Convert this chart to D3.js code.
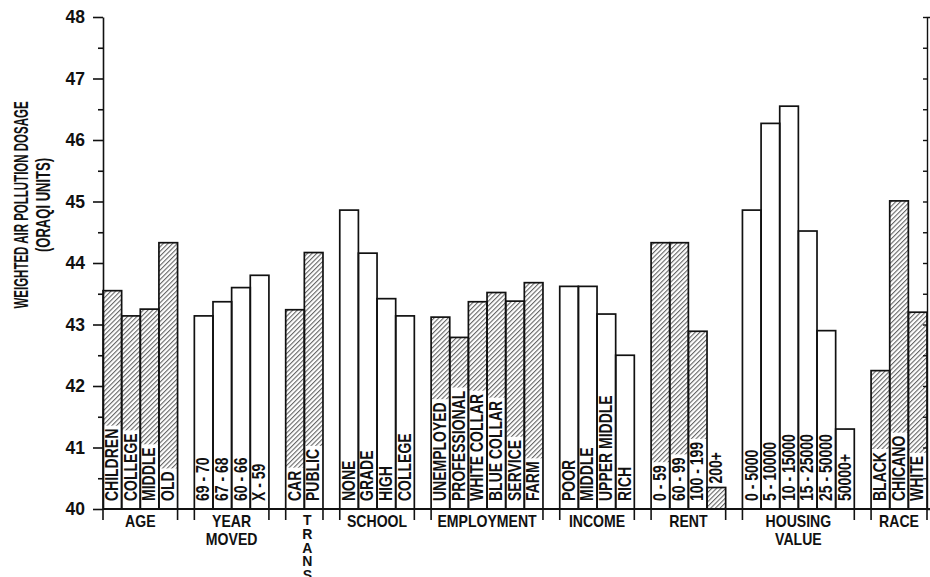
<!DOCTYPE html>
<html>
<head>
<meta charset="utf-8">
<script src="https://cdn.jsdelivr.net/npm/d3@7"></script>
<style>
  html, body { margin: 0; padding: 0; background: #fff; }
  svg { display: block; }
  text { font-family: "Liberation Sans", Arial, sans-serif; font-weight: bold; fill: #111; }
  text.stacked { writing-mode: vertical-rl; text-orientation: upright; }
</style>
</head>
<body>
<svg id="chart" width="930" height="577"></svg>
<script>
// Weighted air pollution dosage (ORAQI units) by population subgroup

const groupTitles = [["AGE"], ["YEAR", "MOVED"], ["TRANS"], ["SCHOOL"], ["EMPLOYMENT"],
                     ["INCOME"], ["RENT"], ["HOUSING", "VALUE"], ["RACE"]];

const ageCats = ["CHILDREN", "COLLEGE", "MIDDLE", "OLD"];
const ageVals = [43.55, 43.14, 43.25, 44.33];

const movedCats = ["69 - 70", "67 - 68", "60 - 66", "X - 59"];
const movedVals = [43.14, 43.37, 43.60, 43.80];

const transCats = ["CAR", "PUBLIC"];
const transVals = [43.24, 44.17];

const schoolCats = ["NONE", "GRADE", "HIGH", "COLLEGE"];
const schoolVals = [44.86, 44.16, 43.42, 43.14];

const employCats = ["UNEMPLOYED", "PROFESSIONAL", "WHITE COLLAR", "BLUE COLLAR", "SERVICE", "FARM"];
const employVals = [43.12, 42.79, 43.37, 43.52, 43.38, 43.68];

const incomeCats = ["POOR", "MIDDLE", "UPPER MIDDLE", "RICH"];
const incomeVals = [43.62, 43.62, 43.17, 42.50];

const rentCats = ["0 - 59", "60 - 99", "100 - 199", "200+"];
const rentVals = [44.33, 44.33, 42.89, 40.35];

const housingCats = ["0 - 5000", "5 - 10000", "10 - 15000", "15 - 25000", "25 - 50000", "50000+"];
const housingVals = [44.86, 46.27, 46.55, 44.52, 42.90, 41.30];

const raceCats = ["BLACK", "CHICANO", "WHITE"];
const raceVals = [42.25, 45.01, 43.20];

const yTicks = [40, 41, 42, 43, 44, 45, 46, 47, 48];
const axisTitle = ["WEIGHTED AIR POLLUTION DOSAGE", "(ORAQI UNITS)"];

// ---------------------------------------------------------------------------

const groups = [
  [ageCats, ageVals], [movedCats, movedVals], [transCats, transVals],
  [schoolCats, schoolVals], [employCats, employVals], [incomeCats, incomeVals],
  [rentCats, rentVals], [housingCats, housingVals], [raceCats, raceVals]
].map(([cats, vals], i) => ({ title: groupTitles[i], cats, vals }));

const plot = { left: 103, right: 927, top: 17, bottom: 509 };
const gapUnits = 0.9;          // space between groups, in bar widths

const bars = [];
let slot = 0;
groups.forEach((g, gi) => {
  g.start = slot;
  g.cats.forEach((c, i) => {
    bars.push({ cat: c, value: g.vals[i], group: gi, hatched: gi % 2 === 0, pos: slot });
    slot += 1;
  });
  g.end = slot;
  slot += gapUnits;
});
const totalUnits = slot - gapUnits;

const x = d3.scaleLinear().domain([0, totalUnits]).range([plot.left, plot.right]);
const y = d3.scaleLinear().domain([40, 48]).range([plot.bottom, plot.top]);

const svg = d3.select("#chart");

// diagonal hatch fill
const defs = svg.append("defs");
const pat = defs.append("pattern")
  .attr("id", "hatch")
  .attr("patternUnits", "userSpaceOnUse")
  .attr("width", 3.3).attr("height", 3.3)
  .attr("patternTransform", "rotate(45)");
pat.append("rect").attr("width", 3.3).attr("height", 3.3).attr("fill", "#fff");
pat.append("line")
  .attr("x1", 0.6).attr("y1", 0).attr("x2", 0.6).attr("y2", 3.3)
  .attr("stroke", "#444").attr("stroke-width", 0.9);

const fillG = svg.append("g");
const boxG = svg.append("g");
const outlineG = svg.append("g");
const labelG = svg.append("g");

fillG.selectAll("rect").data(bars).join("rect")
  .attr("x", d => x(d.pos))
  .attr("y", d => y(d.value))
  .attr("width", d => x(d.pos + 1) - x(d.pos))
  .attr("height", d => y(40) - y(d.value))
  .attr("fill", d => d.hatched ? "url(#hatch)" : "#fff");

// bar category labels, rotated, reading upward from near the baseline;
// a label longer than its bar sits just above the bar instead
const labelSize = 17.5, labelSquash = 0.8;
const cap = labelSize * 0.716;
const labelBottom = plot.bottom - 8;

labelG.selectAll("text").data(bars).join("text")
  .attr("font-size", labelSize)
  .attr("text-anchor", "start")
  .text(d => d.cat)
  .each(function (d) {
    d.labelLen = this.getComputedTextLength() * labelSquash;
    const top = y(d.value);
    d.inside = (labelBottom - top) >= d.labelLen + 4;
    d.start = d.inside ? labelBottom : top - 4;
    const cx = (x(d.pos) + x(d.pos + 1)) / 2;
    d3.select(this).attr("transform",
      `translate(${cx + cap / 2 - 0.5},${d.start}) rotate(-90) scale(${labelSquash},1)`);
  });

// clear band behind each label inside its bar
const boxTop = d => Math.max(d.start - d.labelLen - 3, y(d.value));
boxG.selectAll("rect").data(bars.filter(d => d.inside)).join("rect")
  .attr("x", d => x(d.pos))
  .attr("width", d => x(d.pos + 1) - x(d.pos))
  .attr("y", boxTop)
  .attr("height", d => plot.bottom - boxTop(d))
  .attr("fill", "#fff");

outlineG.selectAll("rect").data(bars).join("rect")
  .attr("x", d => x(d.pos))
  .attr("y", d => y(d.value))
  .attr("width", d => x(d.pos + 1) - x(d.pos))
  .attr("height", d => y(40) - y(d.value))
  .attr("fill", "none")
  .attr("stroke", "#111")
  .attr("stroke-width", 1.7);

// left value axis: integer ticks labelled, half-unit ticks shorter
const yAxisG = svg.append("g").attr("transform", `translate(${plot.left},0)`);
yAxisG.call(d3.axisLeft(y).tickValues(yTicks).tickSize(10).tickSizeOuter(0).tickPadding(8)
  .tickFormat(d3.format("d")));
yAxisG.append("g").call(d3.axisLeft(y).tickValues(d3.range(40.5, 48, 1)).tickSize(5).tickFormat(""))
  .select(".domain").remove();
yAxisG.selectAll("path, line").attr("stroke", "#111").attr("stroke-width", 1.6);
yAxisG.selectAll(".tick text")
  .attr("font-family", "'DejaVu Sans', sans-serif")
  .attr("font-weight", "bold")
  .attr("font-size", 17.5)
  .attr("fill", "#111");

// right frame with small inward ticks every half unit
const rAxisG = svg.append("g").attr("transform", `translate(${plot.right},0)`);
rAxisG.call(d3.axisLeft(y).tickValues(d3.range(40.5, 48.01, 0.5)).tickSize(4).tickSizeOuter(-4).tickFormat(""));
rAxisG.selectAll("path, line").attr("stroke", "#111").attr("stroke-width", 1.4);

// baseline
svg.append("line")
  .attr("x1", x(0)).attr("x2", x(totalUnits) + 3)
  .attr("y1", y(40)).attr("y2", y(40))
  .attr("stroke", "#111").attr("stroke-width", 1.8);

// group boundary ticks below the baseline
const edges = groups.flatMap(g => [g.start, g.end]);
svg.append("g").selectAll("line").data(edges).join("line")
  .attr("x1", d => x(d)).attr("x2", d => x(d))
  .attr("y1", y(40)).attr("y2", y(40) + 11)
  .attr("stroke", "#111").attr("stroke-width", 1.6);

// group titles
const titleSize = 16, titleSquash = 0.88;
const titleG = svg.append("g");
groups.forEach(g => {
  const cx = x((g.start + g.end) / 2);
  const width = x(g.end) - x(g.start);
  const probe = titleG.append("text").attr("font-size", titleSize).text(g.title[0]);
  const w = probe.node().getComputedTextLength() * titleSquash;
  probe.remove();
  if (g.title.length === 1 && w > width) {
    // too wide for the group: letters stacked upright, top to bottom
    titleG.append("text")
      .attr("class", "stacked")
      .attr("font-size", titleSize - 2)
      .style("letter-spacing", "-2.2px")
      .attr("text-anchor", "start")
      .attr("x", cx + 3)
      .attr("y", plot.bottom + 3)
      .text(g.title[0]);
  } else {
    g.title.forEach((line, i) => {
      titleG.append("text")
        .attr("font-size", titleSize)
        .attr("text-anchor", "middle")
        .attr("transform", `translate(${cx},${plot.bottom + 18 + i * 17.5}) scale(${titleSquash},1)`)
        .text(line);
    });
  }
});

// value axis title
const axTitleSize = 19.5;
axisTitle.forEach((line, i) => {
  svg.append("text")
    .attr("font-size", axTitleSize)
    .attr("text-anchor", "middle")
    .attr("transform", `translate(${28 + i * 22},205) rotate(-90) scale(${i === 0 ? 0.59 : 0.67},1)`)
    .text(line);
});
</script>
</body>
</html>
